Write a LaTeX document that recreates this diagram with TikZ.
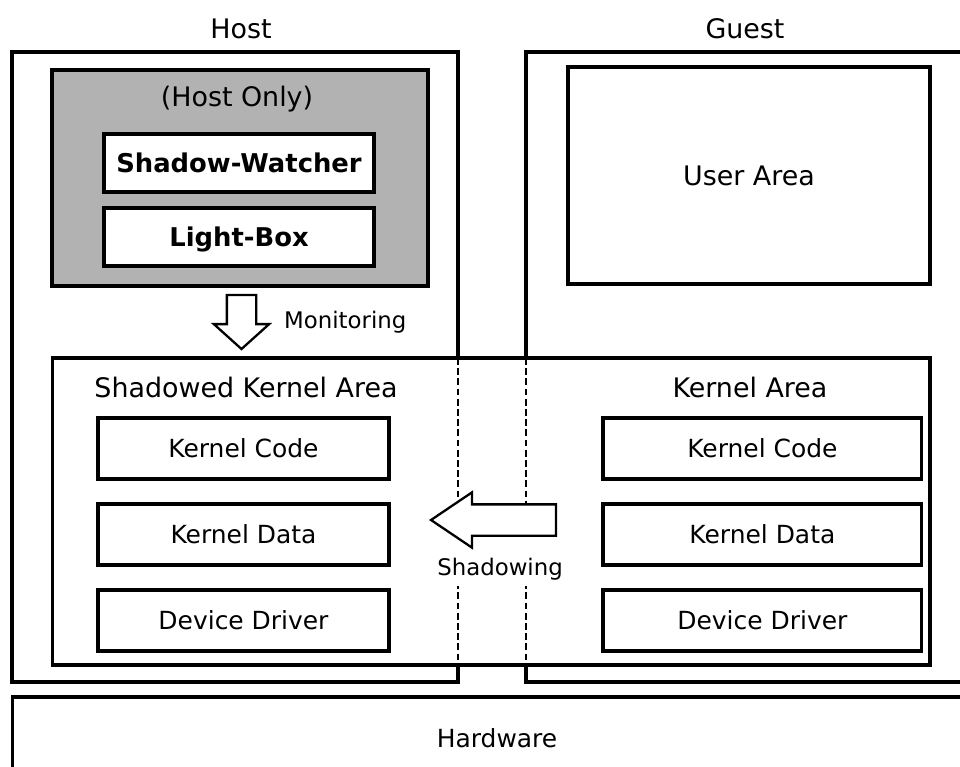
\documentclass[tikz,border=0pt]{standalone}
\usepackage{fontspec}
\setmainfont{DejaVu Sans}
\usetikzlibrary{positioning,shapes.arrows}

\definecolor{hostgray}{RGB}{178,178,178}

\tikzset{
	frame/.style={draw, line width=1.8pt, outer sep=0pt},
	bigtext/.style={font=\fontsize{15.3}{18}\selectfont},
	midtext/.style={font=\fontsize{14.2}{17}\selectfont},
	smalltext/.style={font=\fontsize{13}{15}\selectfont},
	toolbox/.style={frame, fill=white, minimum width=5.4cm, minimum height=1.16cm,
		font=\bfseries\fontsize{14.7}{17}\selectfont, text depth=0pt},
	inbox/.style={frame, fill=white, minimum height=1.22cm, midtext},
	wall/.style={line width=1.4pt, dash pattern=on 3.9pt off 1.9pt},
	blockarrow/.style={single arrow, draw, fill=white, line width=1.3pt, outer sep=0pt},
}

\begin{document}
\begin{tikzpicture}[x=0.02cm, y=-0.02cm]
	% 0. 画布范围
	\useasboundingbox (0,0) rectangle (960,767);
	\clip (0,0) rectangle (960,767);
	
	% 1. 外框：硬件、Host、Guest
	\node[frame, midtext, minimum width=19.4cm, minimum height=1.64cm] (hw) at (497,738) {Hardware};
	\node[frame, minimum width=8.92cm, minimum height=12.6cm] (host) at (235,367) {};
	\node[frame, minimum width=8.76cm, minimum height=12.6cm] (guest) at (745,367) {};
	\node[bigtext, anchor=base] (hostlbl) at (241,39) {Host};
	\node[bigtext, anchor=base] (guestlbl) at (745,39) {Guest};
	
	% 2. 只在 Host 上的部分（灰底）
	\node[frame, fill=hostgray, minimum width=7.52cm, minimum height=4.32cm] (hostonly) at (240,178) {};
	\node[bigtext, anchor=base] (hostonlylbl) at (237,107) {(Host Only)};
	\node[toolbox] (watcher) at (239,163) {Shadow-Watcher};
	\node[toolbox, below=0.32cm of watcher] (lightbox) {Light-Box};
	
	% 3. Guest 的用户区
	\node[frame, bigtext, minimum width=7.24cm, minimum height=4.34cm] (user) at (749,175.5) {User Area};
	
	% 4. 内核区，白底盖住两条竖线，再补上虚线
	\node[frame, fill=white, minimum width=17.56cm, minimum height=6.14cm] (kernel) at (491,511.5) {};
	\draw[wall] (host.east |- kernel.north) -- (host.east |- kernel.south);
	\draw[wall] (guest.west |- kernel.north) -- (guest.west |- kernel.south);
	\node[bigtext, anchor=base] (shadowedlbl) at (246,397) {Shadowed Kernel Area};
	\node[bigtext, anchor=base] (kernellbl) at (750,397) {Kernel Area};
	
	% 5. 左右两列小框
	\node[inbox, minimum width=5.82cm] (codeL) at (243.5,448.5) {Kernel Code};
	\node[inbox, minimum width=5.82cm, below=0.5cm of codeL] (dataL) {Kernel Data};
	\node[inbox, minimum width=5.82cm, below=0.5cm of dataL] (drvL) {Device Driver};
	\node[inbox, minimum width=6.38cm, right=4.28cm of codeL] (codeR) {Kernel Code};
	\node[inbox, minimum width=6.38cm, right=4.28cm of dataL] (dataR) {Kernel Data};
	\node[inbox, minimum width=6.38cm, right=4.28cm of drvL] (drvR) {Device Driver};
	
	% 6. 空心箭头：Shadowing（标签先画，白底挡住虚线）
	\node[smalltext, fill=white, inner sep=0pt, text height=23pt, text depth=6pt, anchor=base] (shadowlbl) at (500,575) {Shadowing};
	\node[blockarrow, shape border rotate=180, minimum height=2.5cm, inner sep=0.29cm,
		single arrow head extend=0.24cm, single arrow tip angle=68, anchor=tip] (shadowarrow) at (431,520) {};
	
	% 7. 空心箭头：Monitoring
	\node[blockarrow, shape border rotate=270, minimum height=1.08cm, inner sep=0.27cm,
		single arrow head extend=0.26cm, single arrow tip angle=96, anchor=tip] (monarrow) at (241.5,349) {};
	\node[smalltext, anchor=base west] (monlbl) at (278,328) {Monitoring};
\end{tikzpicture}
\end{document}
